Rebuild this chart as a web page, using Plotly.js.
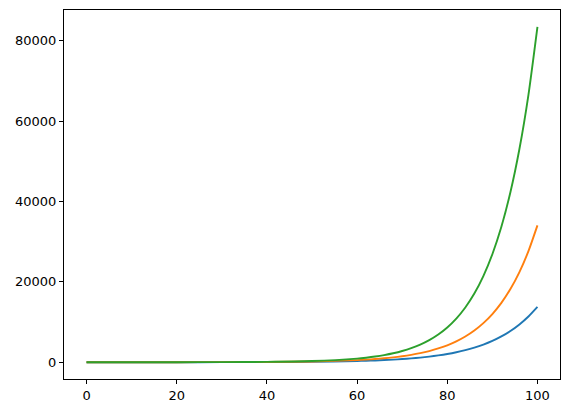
<!DOCTYPE html>
<html>
<head>
<meta charset="utf-8">
<script src="https://cdn.plot.ly/plotly-3.0.1.min.js"></script>
<style>
  html, body { margin: 0; padding: 0; background: #fff; }
  #chart { width: 569px; height: 413px; }
</style>
</head>
<body>
<div id="chart"></div>
<script>
// values
var xs = [0, 10, 20, 30, 40, 50, 60, 62, 64, 66, 68, 70, 72, 74, 76, 78, 80,
          82, 84, 86, 88, 90, 92, 94, 96, 98, 100];
var seriesA = [1, 2.6, 6.7, 17.4, 45, 117, 304, 368, 446, 539, 653, 790, 956, 1157,
               1400, 1694, 2048, 2479, 2999, 3629, 4391, 5313, 6429, 7779, 9413, 11389, 13781];
var seriesB = [1, 2.8, 8.1, 22.9, 65, 185, 524, 646, 796, 980, 1208, 1488, 1833, 2259,
               2783, 3429, 4226, 5206, 6415, 7904, 9738, 11999, 14784, 18215, 22443, 27652, 34064];
var seriesC = [1, 3.1, 9.6, 30, 93, 289, 898, 1126, 1413, 1772, 2223, 2788, 3497, 4387,
               5503, 6903, 8659, 10861, 13624, 17090, 21438, 26892, 33733, 42315, 53080, 66583, 83522];
var xTicks = [0, 20, 40, 60, 80, 100];
var yTicks = [0, 20000, 40000, 60000, 80000];

var colors = ['#1f77b4', '#ff7f0e', '#2ca02c'];

var traces = [seriesA, seriesB, seriesC].map(function(ys, i) {
    return {
        x: xs,
        y: ys,
        type: 'scatter',
        mode: 'lines',
        line: { color: colors[i], width: 1.9, shape: 'spline', smoothing: 0.6 },
        hoverinfo: 'skip'
    };
});

var axisStyle = {
    showgrid: false,
    zeroline: false,
    showline: true,
    mirror: true,
    linecolor: '#000',
    linewidth: 1,
    ticks: 'outside',
    ticklen: 4,
    tickwidth: 1,
    tickcolor: '#000',
    tickfont: { family: 'DejaVu Sans', size: 13, color: '#000' }
};

var layout = {
    width: 569,
    height: 413,
    margin: { l: 64, r: 9, t: 10, b: 34 },
    paper_bgcolor: '#fff',
    plot_bgcolor: '#fff',
    showlegend: false,
    xaxis: Object.assign({}, axisStyle, {
        range: [-5, 105],
        tickvals: xTicks,
        ticktext: xTicks.map(String)
    }),
    yaxis: Object.assign({}, axisStyle, {
        range: [-4175, 87698],
        tickvals: yTicks,
        ticktext: yTicks.map(String)
    })
};

Plotly.newPlot('chart', traces, layout, { displayModeBar: false, staticPlot: true });
</script>
</body>
</html>
